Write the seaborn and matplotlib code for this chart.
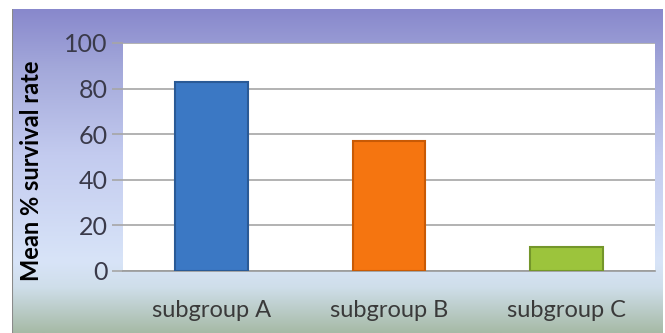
import numpy as np
import pandas as pd
import matplotlib
matplotlib.use("Agg")
import matplotlib.pyplot as plt
from matplotlib.colors import LinearSegmentedColormap
import seaborn as sns

groups = ["subgroup A", "subgroup B", "subgroup C"]
survival = [83, 57, 10.5]
bar_colors = ["#3b78c4", "#f57510", "#9cc43c"]
edge_colors = ["#2a5a96", "#c85a05", "#74962a"]
y_ticks = [0, 20, 40, 60, 80, 100]

sns.set_theme(style="white")
plt.rcParams['font.family'] = ['Lato', 'DejaVu Sans']

df = pd.DataFrame({"group": groups, "rate": survival})

fig = plt.figure(figsize=(6.65, 3.33), dpi=100)
fig.patch.set_facecolor("white")

# gradient background panel
bg = fig.add_axes([12 / 665, 0, 651 / 665, 324 / 333])
cmap = LinearSegmentedColormap.from_list(
    "bg",
    [(0.0, "#8888cc"), (0.18, "#a3a8da"), (0.45, "#c3cbef"),
     (0.78, "#d8e4f8"), (0.86, "#cfdeea"), (1.0, "#a6baa6")])
grad = np.linspace(0, 1, 256).reshape(-1, 1)
bg.imshow(grad, aspect="auto", cmap=cmap, extent=[0, 1, 0, 1], origin="upper")
bg.set_axis_off()
bg.plot([0, 0], [0, 1], color="#8a8a8a", lw=1.5, transform=bg.transAxes)

ax = fig.add_axes([123 / 665, 62 / 333, 532 / 665, 228 / 333])
ax.set_facecolor("white")
sns.barplot(data=df, x="group", y="rate", hue="group", palette=bar_colors,
            saturation=1, width=0.41, legend=False, ax=ax, zorder=3)
for patch, ec in zip(ax.patches, edge_colors):
    patch.set_edgecolor(ec)
    patch.set_linewidth(1.5)

ax.set_ylim(0, 100)
ax.set_yticks(y_ticks)
ax.yaxis.grid(True, color="#a6a6a6", lw=1.2, zorder=0)
ax.set_axisbelow(True)
for s in ["top", "right", "left"]:
    ax.spines[s].set_visible(False)
ax.spines["bottom"].set_color("#9a9a9a")
ax.spines["bottom"].set_linewidth(1.2)
ax.tick_params(axis="y", which="major", left=True, length=8, width=1.2,
               color="#a6a6a6", labelsize=18, labelcolor="#3a3a4a", pad=3)
ax.tick_params(axis="x", bottom=False, labelsize=17, labelcolor="#3a3a3a", pad=15)
ax.set_xlabel("")
ax.set_ylabel("Mean % survival rate", fontsize=17, fontweight="bold",
              color="black")
ax.yaxis.set_label_coords(-0.15, 0.44)

fig.savefig("out.png", dpi=100)
